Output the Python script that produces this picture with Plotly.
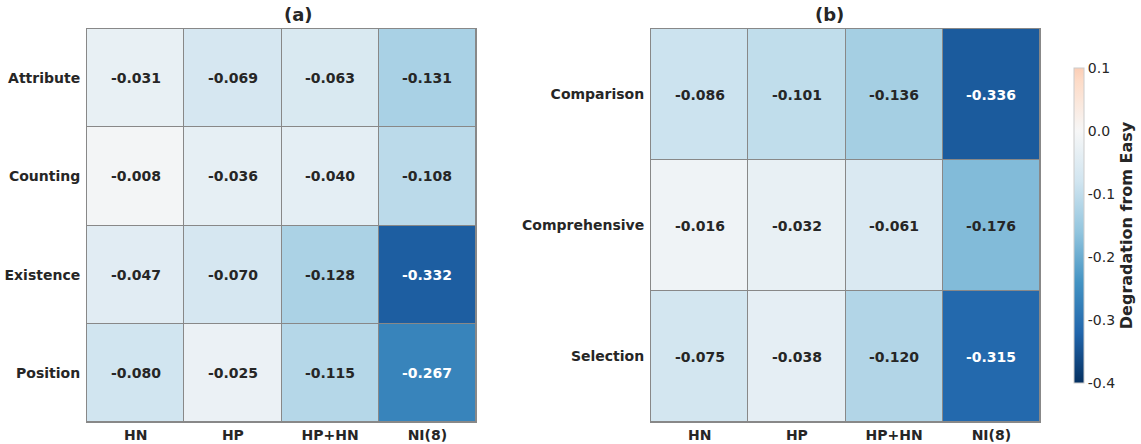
import plotly.graph_objects as go

cols = ["HN", "HP", "HP+HN", "NI(8)"]
rows_a = ["Attribute", "Counting", "Existence", "Position"]
vals_a = [
    [-0.031, -0.069, -0.063, -0.131],
    [-0.008, -0.036, -0.040, -0.108],
    [-0.047, -0.070, -0.128, -0.332],
    [-0.080, -0.025, -0.115, -0.267],
]
rows_b = ["Comparison", "Comprehensive", "Selection"]
vals_b = [
    [-0.086, -0.101, -0.136, -0.336],
    [-0.016, -0.032, -0.061, -0.176],
    [-0.075, -0.038, -0.120, -0.315],
]
cbar_ticks = [0.1, 0.0, -0.1, -0.2, -0.3, -0.4]
cbar_text = ["0.1", "0.0", "-0.1", "-0.2", "-0.3", "-0.4"]
zmin, zmax = -0.4, 0.1

# RdBu_r truncated (seaborn centre=0 with vmin=-0.4, vmax=0.1)
rdbu_r = ["#053061", "#2166ac", "#4393c3", "#92c5de", "#d1e5f0", "#f7f7f7", "#fddbc7", "#f4a582"]
def hex2rgb(h):
    return tuple(int(h[i:i + 2], 16) for i in (1, 3, 5))
cmax_pos = (zmax - zmin) / (2 * max(-zmin, zmax))  # 0.625
scale = []
for i in range(7):
    c = i / 10
    scale.append([c / cmax_pos, rdbu_r[i]])
a, b = hex2rgb(rdbu_r[6]), hex2rgb(rdbu_r[7])
f = (cmax_pos - 0.6) / 0.1
top = tuple(round(a[k] + f * (b[k] - a[k])) for k in range(3))
scale.append([1.0, "rgb(%d,%d,%d)" % top])

FONT = "DejaVu Sans"
TXT = "#262626"

# plot area in pixels
L, R, T, B = 87, 1040, 29, 422
W, H = R - L, B - T
def px(x):
    return (x - L) / W
def py(y):
    return (B - y) / H

fig = go.Figure()
fig.add_trace(go.Heatmap(z=vals_a, x=cols, y=rows_a, zmin=zmin, zmax=zmax, colorscale=scale,
                         xgap=1, ygap=1, showscale=False, xaxis="x", yaxis="y", hoverinfo="z"))
fig.add_trace(go.Heatmap(z=vals_b, x=cols, y=rows_b, zmin=zmin, zmax=zmax, colorscale=scale,
                         xgap=1, ygap=1, xaxis="x2", yaxis="y2", hoverinfo="z",
                         colorbar=dict(x=px(1074), xanchor="left", y=py(225.5), yanchor="middle",
                                       len=315 / H, lenmode="fraction", thickness=10,
                                       xpad=0, ypad=0,
                                       outlinewidth=1, outlinecolor="#cccccc",
                                       tickvals=cbar_ticks, ticktext=cbar_text, ticks="",
                                       tickfont=dict(family=FONT, size=14, color=TXT),
                                       title=dict(text="<b>Degradation from Easy</b>", side="right",
                                                  font=dict(family=FONT, size=16, color=TXT)))))

annos = []
for rows, vals, xa, ya in [(rows_a, vals_a, "x", "y"), (rows_b, vals_b, "x2", "y2")]:
    for r, row in zip(rows, vals):
        for c, v in zip(cols, row):
            annos.append(dict(x=c, y=r, xref=xa, yref=ya, text="<b>%.3f</b>" % v, showarrow=False,
                              font=dict(family=FONT, size=14, color="white" if v < -0.22 else TXT)))
annos.append(dict(x=px((87 + 476) / 2), y=py(14), xref="paper", yref="paper", text="<b>(a)</b>",
                  showarrow=False, font=dict(family=FONT, size=18, color=TXT), yanchor="middle"))
annos.append(dict(x=px((651 + 1040) / 2), y=py(14), xref="paper", yref="paper", text="<b>(b)</b>",
                  showarrow=False, font=dict(family=FONT, size=18, color=TXT), yanchor="middle"))

ax_common = dict(showline=True, mirror=True, linecolor="#888888", linewidth=1, ticks="",
                 showgrid=False, zeroline=False, automargin=False,
                 tickfont=dict(family=FONT, size=14, color=TXT), tickprefix="<b>", ticksuffix="</b>")
fig.update_layout(
    width=1141, height=444,
    margin=dict(l=L, r=1141 - R, t=T, b=444 - B, autoexpand=False),
    paper_bgcolor="white", plot_bgcolor="#888888",
    font=dict(family=FONT, color=TXT),
    xaxis=dict(domain=[0, px(476)], anchor="y", **ax_common),
    yaxis=dict(domain=[0, 1], anchor="x", autorange="reversed", ticklabelstandoff=3, **ax_common),
    xaxis2=dict(domain=[px(651), 1], anchor="y2", **ax_common),
    yaxis2=dict(domain=[0, 1], anchor="x2", autorange="reversed", ticklabelstandoff=3, **ax_common),
    annotations=annos,
)
fig.write_html("out.html", config={"displayModeBar": False},
               post_script="document.body.style.margin='0';document.body.style.overflow='hidden';")
